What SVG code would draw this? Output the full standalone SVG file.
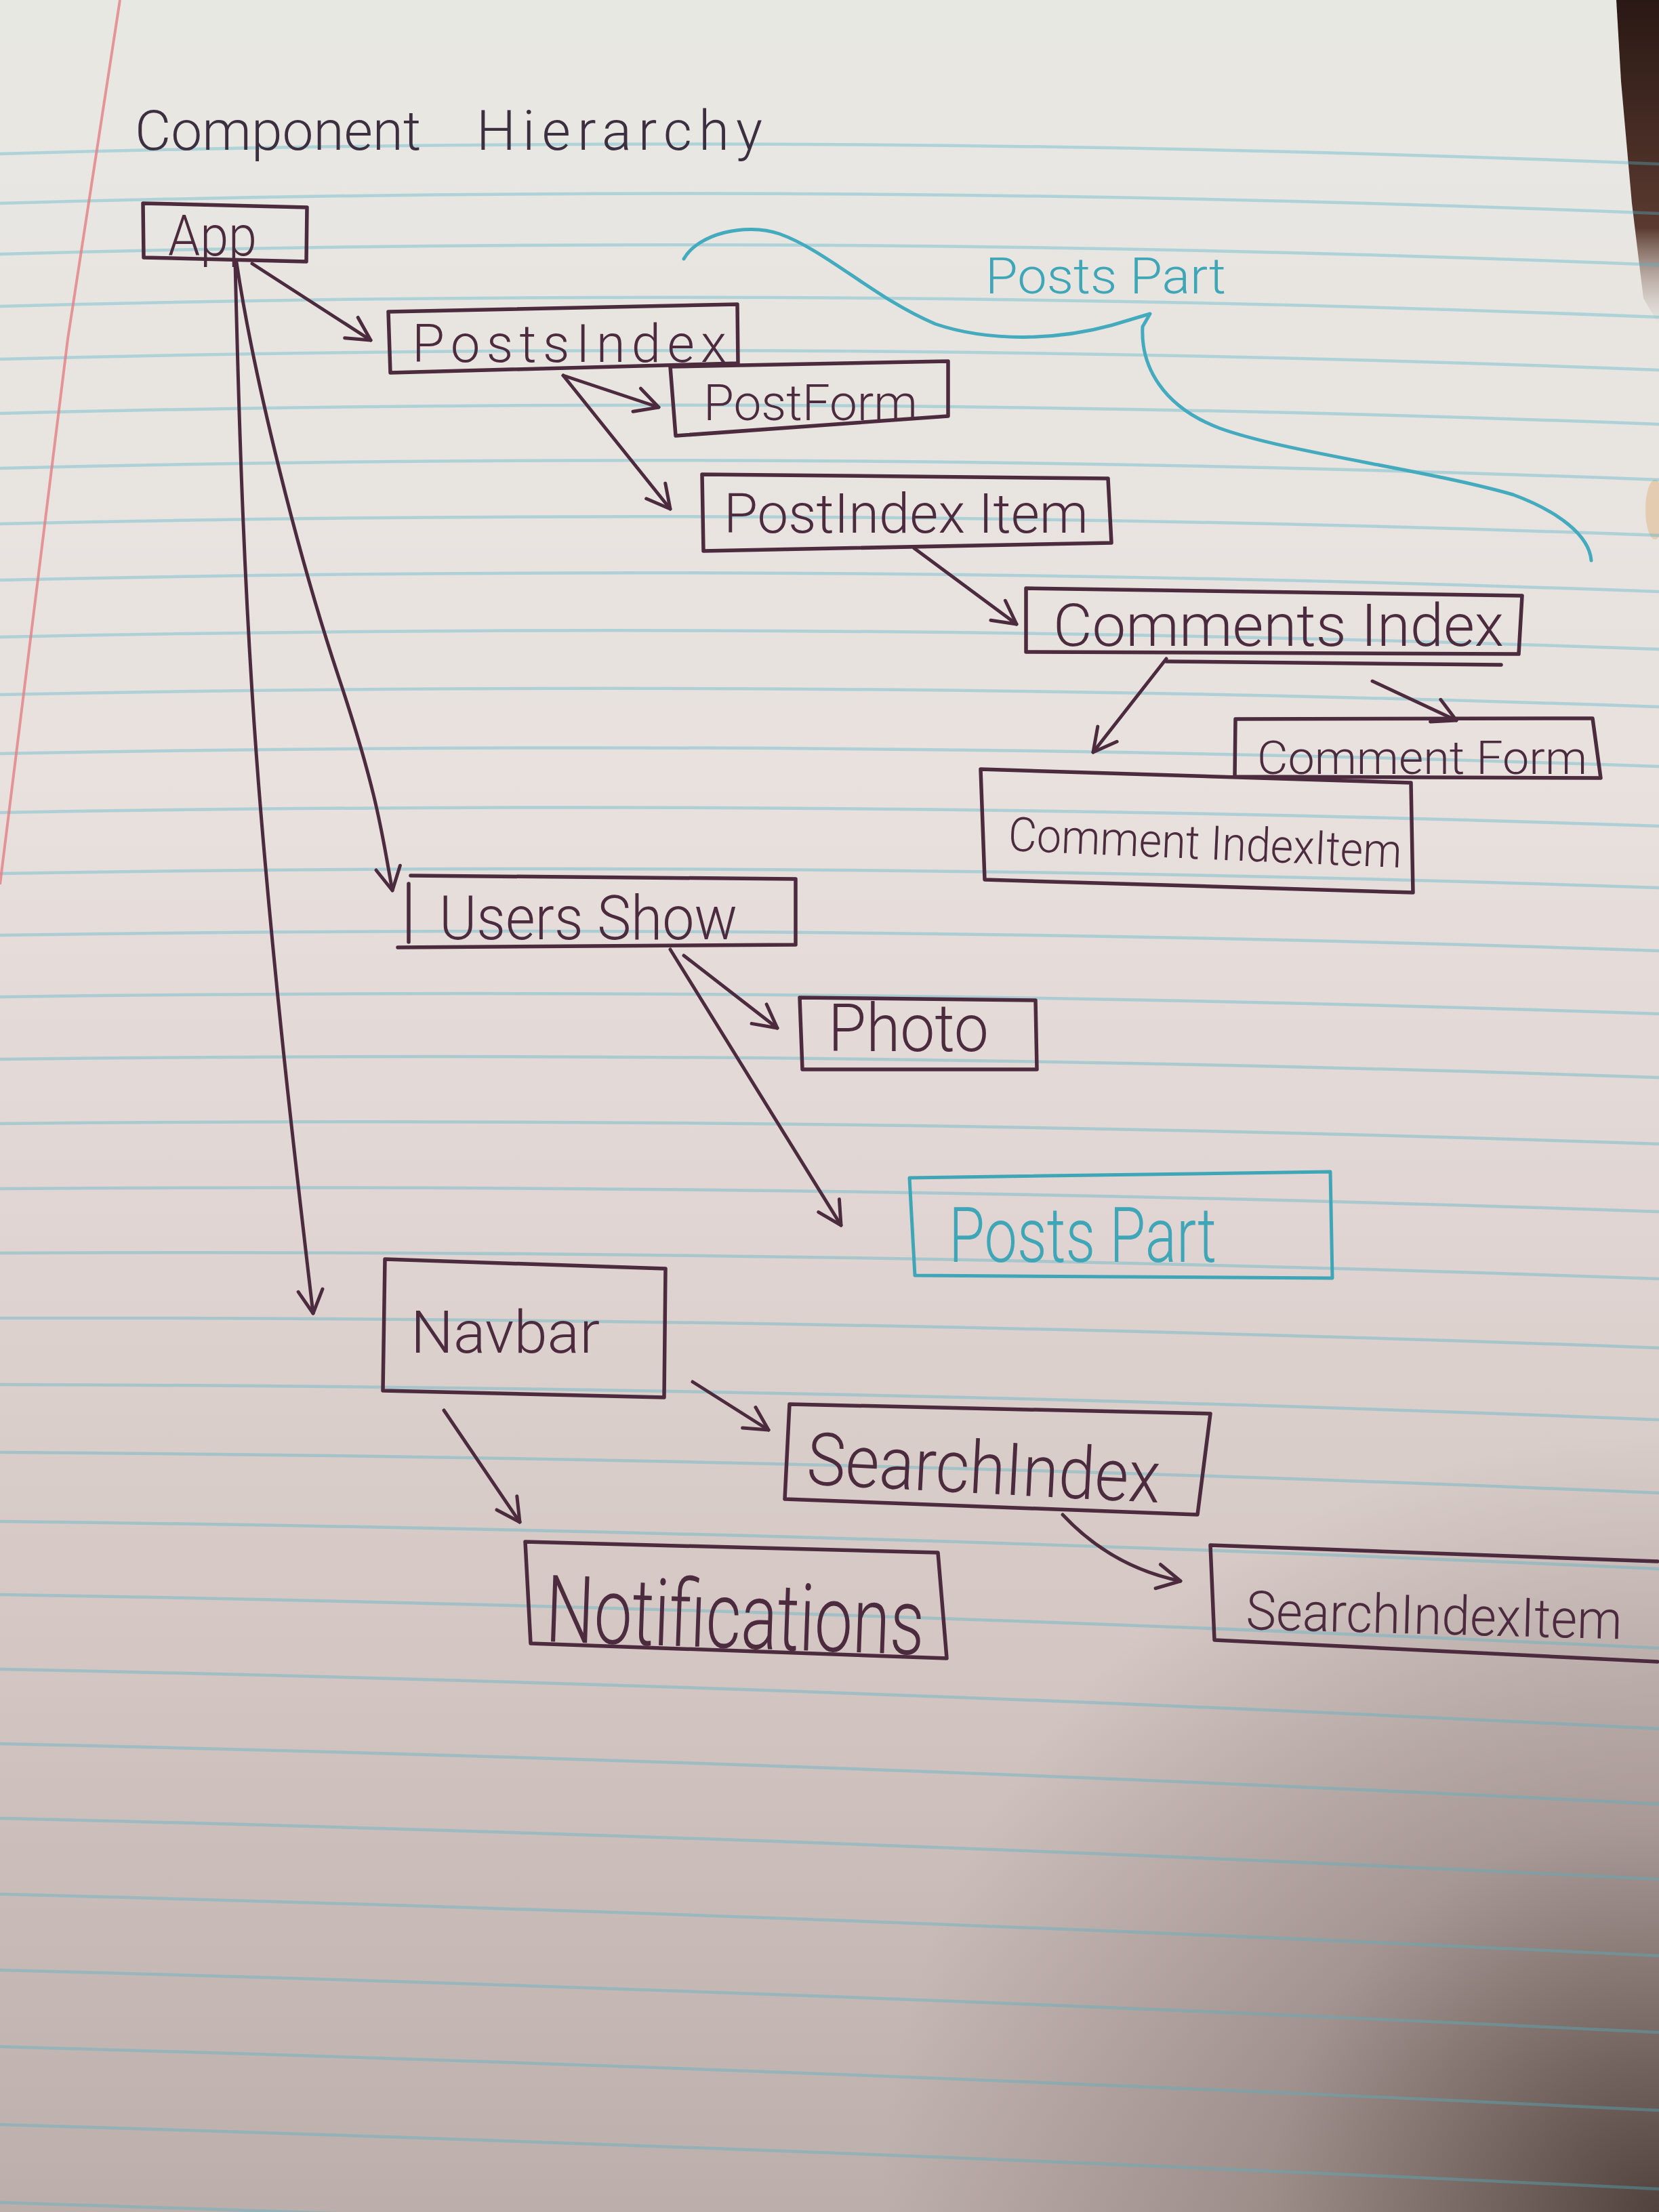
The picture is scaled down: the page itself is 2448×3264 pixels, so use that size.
<svg xmlns="http://www.w3.org/2000/svg" width="2448" height="3264" viewBox="0 0 2448 3264">
<style>
.rule{fill:none;stroke:#4fb3c9;stroke-width:4.5;stroke-opacity:.38}
.box{fill:none;stroke:#4b2b3d;stroke-width:5.5;stroke-linejoin:round;stroke-linecap:round}
.bluebox{fill:none;stroke:#3ea6b6;stroke-width:5;stroke-linejoin:round}
.conn{fill:none;stroke:#4b2b3d;stroke-width:5;stroke-linecap:round;stroke-linejoin:round;marker-end:url(#ah)}
.lbl{font-family:Roboto,"Liberation Sans","DejaVu Sans",sans-serif;font-weight:300;fill:#4b2b3d}
.blbl{font-family:Roboto,"Liberation Sans","DejaVu Sans",sans-serif;font-weight:300;fill:#3ea6b6}
</style>
<defs>
<linearGradient id="paperg" x1="0" y1="0" x2="0" y2="1">
<stop offset="0" stop-color="#e8e8e3"/>
<stop offset=".35" stop-color="#e8e1de"/>
<stop offset=".55" stop-color="#e0d5d2"/>
<stop offset=".75" stop-color="#d3c6c3"/>
<stop offset="1" stop-color="#bcaeaa"/>
</linearGradient>
<radialGradient id="cornerg" cx="2448" cy="3264" r="1150" gradientUnits="userSpaceOnUse">
<stop offset="0" stop-color="#2e1e18" stop-opacity=".75"/>
<stop offset=".5" stop-color="#3a2a24" stop-opacity=".25"/>
<stop offset="1" stop-color="#3a2a24" stop-opacity="0"/>
</radialGradient>
<linearGradient id="edgeg" x1="0" y1="0" x2="0" y2="1">
<stop offset="0" stop-color="#2a1814"/>
<stop offset=".7" stop-color="#5a3a30"/>
<stop offset="1" stop-color="#b8a49a" stop-opacity="0"/>
</linearGradient>
<marker id="ah" viewBox="-44 -24 50 48" refX="0" refY="0" markerWidth="50" markerHeight="48" markerUnits="userSpaceOnUse" orient="auto">
<path d="M -34 -18 L 0 0 L -34 18" fill="none" stroke="#4b2b3d" stroke-width="5" stroke-linecap="round" stroke-linejoin="round"/>
</marker>
</defs>

<g id="paper">
<rect x="0" y="0" width="2448" height="3264" fill="url(#paperg)"/>
<rect x="0" y="0" width="2448" height="3264" fill="url(#cornerg)"/>
<path d="M 2385 0 L 2448 0 L 2448 480 L 2425 440 L 2408 300 L 2392 120 Z" fill="url(#edgeg)"/>
<ellipse cx="2442" cy="752" rx="14" ry="44" fill="#e2c29c" opacity=".7"/>
<g id="ruling">
<path class="rule" d="M 0 227 Q 1224 192 2448 242"/>
<path class="rule" d="M 0 300 Q 1224 265 2448 315"/>
<path class="rule" d="M 0 375 Q 1224 341 2448 391"/>
<path class="rule" d="M 0 452 Q 1224 419 2448 468"/>
<path class="rule" d="M 0 530 Q 1224 498 2448 546"/>
<path class="rule" d="M 0 610 Q 1224 579 2448 626"/>
<path class="rule" d="M 0 691 Q 1224 661 2448 708"/>
<path class="rule" d="M 0 773 Q 1224 745 2448 790"/>
<path class="rule" d="M 0 856 Q 1224 828 2448 873"/>
<path class="rule" d="M 0 940 Q 1224 914 2448 958"/>
<path class="rule" d="M 0 1025 Q 1224 1000 2448 1043"/>
<path class="rule" d="M 0 1112 Q 1224 1088 2448 1131"/>
<path class="rule" d="M 0 1199 Q 1224 1177 2448 1219"/>
<path class="rule" d="M 0 1289 Q 1224 1268 2448 1310"/>
<path class="rule" d="M 0 1380 Q 1224 1361 2448 1403"/>
<path class="rule" d="M 0 1471 Q 1224 1454 2448 1496"/>
<path class="rule" d="M 0 1563 Q 1224 1548 2448 1590"/>
<path class="rule" d="M 0 1658 Q 1224 1646 2448 1688"/>
<path class="rule" d="M 0 1754 Q 1224 1745 2448 1788"/>
<path class="rule" d="M 0 1849 Q 1224 1843 2448 1887"/>
<path class="rule" d="M 0 1945 Q 1224 1943 2448 1989"/>
<path class="rule" d="M 0 2043 Q 1224 2046 2448 2095"/>
<path class="rule" d="M 0 2143 Q 1224 2151 2448 2203"/>
<path class="rule" d="M 0 2245 Q 1224 2259 2448 2315"/>
<path class="rule" d="M 0 2353 Q 1224 2373 2448 2432"/>
<path class="rule" d="M 0 2463 Q 1224 2488 2448 2551"/>
<path class="rule" d="M 0 2573 Q 1224 2600 2448 2662"/>
<path class="rule" d="M 0 2683 Q 1224 2712 2448 2773"/>
<path class="rule" d="M 0 2795 Q 1224 2826 2448 2886"/>
<path class="rule" d="M 0 2907 Q 1224 2939 2448 2999"/>
<path class="rule" d="M 0 3020 Q 1224 3054 2448 3114"/>
<path class="rule" d="M 0 3135 Q 1224 3171 2448 3230"/>
<path class="rule" d="M 0 3250 Q 1224 3288 2448 3346"/>
</g>
<path d="M 177 0 L 100 500 L 0 1305" fill="none" stroke="#e27f84" stroke-width="4" opacity=".8"/>
</g>

<g id="title">
<text class="lbl" font-size="82" y="221" style="fill:#3c3040"><tspan x="199">Component </tspan><tspan x="703" letter-spacing="10">Hierarchy</tspan></text>
</g>

<g id="posts-part-bracket">
<path d="M 1009 382 C 1030 345, 1100 328, 1150 345 C 1220 370, 1290 440, 1380 478 C 1460 505, 1560 502, 1640 480 L 1697 463 L 1686 482 C 1683 540, 1715 600, 1800 632 C 1900 668, 2100 692, 2233 730 C 2300 755, 2345 790, 2348 827" fill="none" stroke="#44aabd" stroke-width="5" stroke-linecap="round" stroke-linejoin="round"/>
<text class="blbl" x="1454" y="433" font-size="74" textLength="355" lengthAdjust="spacingAndGlyphs">Posts Part</text>
</g>

<g id="connectors">
<path class="conn" d="M 372 389 L 547 502"/>
<path class="conn" d="M 349 387 C 375 560, 440 820, 500 1000 S 565 1240, 579 1314"/>
<path class="conn" d="M 347 387 C 352 600, 360 900, 385 1200 S 440 1750, 462 1938"/>
<path class="conn" d="M 831 554 L 972 601"/>
<path class="conn" d="M 831 554 L 989 751"/>
<path class="conn" d="M 1349 809 L 1500 921"/>
<path class="conn" d="M 1721 972 L 1613 1110"/>
<path class="conn" d="M 2025 1005 L 2149 1063"/>
<path class="conn" d="M 1009 1410 L 1147 1517"/>
<path class="conn" d="M 989 1401 L 1241 1808"/>
<path class="conn" d="M 1022 2039 L 1134 2110"/>
<path class="conn" d="M 655 2081 L 767 2246"/>
<path class="conn" d="M 1568 2235 Q 1640 2312 1742 2333"/>
</g>

<g id="node-app">
<path class="box" d="M 211 300 L 453 306 L 452 386 L 212 380 Z"/>
<text class="lbl" x="248" y="377" font-size="84" textLength="131" lengthAdjust="spacingAndGlyphs">App</text>
</g>
<g id="node-postsindex">
<path class="box" d="M 573 460 L 1088 449 L 1089 536 L 576 550 Z"/>
<text class="lbl" x="608" y="534" font-size="78" textLength="464" lengthAdjust="spacing">PostsIndex</text>
</g>
<g id="node-postform">
<path class="box" d="M 989 541 L 1399 533 L 1399 614 L 997 643 Z"/>
<text class="lbl" x="1038" y="620" font-size="74" textLength="316" lengthAdjust="spacingAndGlyphs">PostForm</text>
</g>
<g id="node-postindexitem">
<path class="box" d="M 1036 700 L 1635 706 L 1640 801 L 1038 813 Z"/>
<text class="lbl" x="1068" y="786" font-size="82" textLength="538" lengthAdjust="spacingAndGlyphs">PostIndex Item</text>
</g>
<g id="node-commentsindex">
<path class="box" d="M 1514 868 L 2246 879 L 2241 965 L 1514 962 Z"/>
<path class="box" d="M 1721 976 L 2215 981"/>
<text class="lbl" x="1554" y="953" font-size="88" textLength="665" lengthAdjust="spacingAndGlyphs">Comments Index</text>
</g>
<g id="node-commentform">
<path class="box" d="M 1823 1061 L 2350 1060 L 2362 1148 L 1822 1146 Z"/>
<text class="lbl" x="1855" y="1142" font-size="68" textLength="487" lengthAdjust="spacingAndGlyphs">Comment Form</text>
</g>
<g id="node-commentindexitem">
<path class="box" d="M 1447 1135 L 2082 1155 L 2085 1317 L 1453 1298 Z"/>
<text class="lbl" x="1487" y="1255" font-size="70" textLength="581" lengthAdjust="spacingAndGlyphs" transform="rotate(2.5 1487 1255)">Comment IndexItem</text>
</g>
<g id="node-usersshow">
<path class="box" d="M 606 1292 L 1174 1297 L 1174 1394 L 587 1398"/>
<path class="box" d="M 603 1304 L 603 1390"/>
<text class="lbl" x="648" y="1386" font-size="90" textLength="440" lengthAdjust="spacingAndGlyphs">Users Show</text>
</g>
<g id="node-photo">
<path class="box" d="M 1180 1472 L 1528 1476 L 1530 1578 L 1184 1578 Z"/>
<text class="lbl" x="1222" y="1551" font-size="98" textLength="237" lengthAdjust="spacingAndGlyphs">Photo</text>
</g>
<g id="node-postspart">
<path class="bluebox" d="M 1342 1738 L 1963 1729 L 1966 1886 L 1350 1882 Z"/>
<text class="blbl" x="1400" y="1862" font-size="114" textLength="395" lengthAdjust="spacingAndGlyphs">Posts Part</text>
</g>
<g id="node-navbar">
<path class="box" d="M 568 1858 L 982 1872 L 980 2062 L 565 2052 Z"/>
<text class="lbl" x="606" y="1996" font-size="88" textLength="279" lengthAdjust="spacingAndGlyphs">Navbar</text>
</g>
<g id="node-searchindex">
<path class="box" d="M 1165 2072 L 1786 2086 L 1767 2235 L 1158 2212 Z"/>
<text class="lbl" x="1189" y="2190" font-size="108" textLength="522" lengthAdjust="spacingAndGlyphs" transform="rotate(3 1189 2190)">SearchIndex</text>
</g>
<g id="node-notifications">
<path class="box" d="M 775 2275 L 1384 2291 L 1397 2447 L 783 2425 Z"/>
<text class="lbl" x="804" y="2422" font-size="138" textLength="559" lengthAdjust="spacingAndGlyphs" transform="rotate(2 804 2422)">Notifications</text>
</g>
<g id="node-searchindexitem">
<path class="box" d="M 2446 2304 L 1786 2280 L 1792 2420 L 2446 2452"/>
<text class="lbl" x="1838" y="2404" font-size="80" textLength="555" lengthAdjust="spacingAndGlyphs" transform="rotate(1.5 1838 2404)">SearchIndexItem</text>
</g>
</svg>
